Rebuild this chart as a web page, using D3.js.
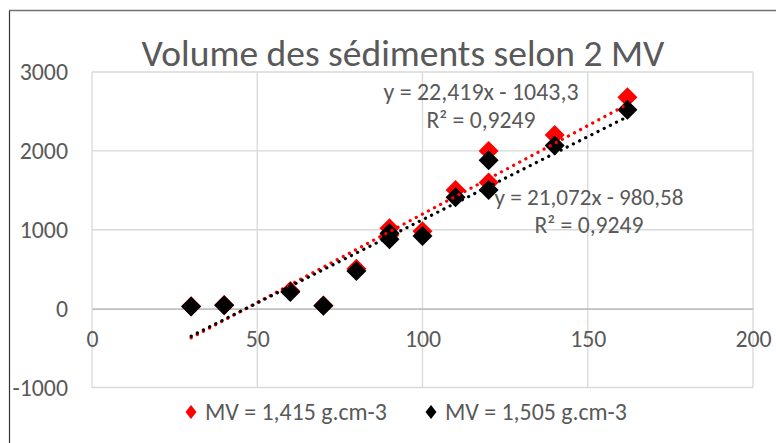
<!DOCTYPE html>
<html><head><meta charset="utf-8">
<script src="https://cdn.jsdelivr.net/npm/d3@7"></script>
<style>
body{margin:0;background:#fff;}
svg{display:block;}
text{font-family: Carlito, Calibri, Lato, "Open Sans", sans-serif; fill:#595959;}
</style>
</head><body>
<svg id="c" width="776" height="443"></svg>
<script>
// ---- data ----
const chartTitle = "Volume des sédiments selon 2 MV";
const xValues = [30, 40, 60, 70, 80, 90, 90, 100, 110, 120, 120, 140, 162];
const seriesRed = [30, 45, 225, 40, 506, 1018, 935, 980, 1503, 2000, 1600, 2200, 2680];
const seriesBlack = [28, 42, 212, 38, 476, 957, 879, 921, 1413, 1880, 1504, 2068, 2520];
const seriesNames = ["MV = 1,415 g.cm-3", "MV = 1,505 g.cm-3"];
const seriesColors = ["#ff0000", "#000000"];
const trendSlopes = [22.419, 21.072];
const trendIntercepts = [-1043.3, -980.58];
const trendEquations = ["y = 22,419x - 1043,3", "y = 21,072x - 980,58"];
const trendR2 = ["R² = 0,9249", "R² = 0,9249"];
const xTicks = [0, 50, 100, 150, 200];
const yTicks = [-1000, 0, 1000, 2000, 3000];

// ---- layout ----
const svg = d3.select("#c");
const plot = {left: 92, right: 753, top: 72, bottom: 387.5};
const x = d3.scaleLinear().domain([0, 200]).range([plot.left, plot.right]);
const y = d3.scaleLinear().domain([-1000, 3000]).range([plot.bottom, plot.top]);

function fitWidth(sel, target) {
  const w = sel.node().getComputedTextLength();
  const fs = parseFloat(sel.attr("font-size"));
  sel.attr("font-size", fs * target / w);
  return fs * target / w;
}

// chart border
svg.append("line").attr("x1", 9.5).attr("x2", 9.5).attr("y1", 10.5).attr("y2", 443)
  .attr("stroke", "#333").attr("stroke-width", 1.2);
svg.append("line").attr("x1", 9).attr("x2", 776).attr("y1", 10.5).attr("y2", 10.5)
  .attr("stroke", "#707070").attr("stroke-width", 1.5);

// base font size from legend text
const probe = svg.append("text").attr("font-size", 24).text(seriesNames[0]);
const baseFs = fitWidth(probe, 182);
probe.remove();

// gridlines
const grid = svg.append("g");
grid.selectAll("line.v").data(xTicks).join("line").attr("class", "v")
  .attr("x1", d => x(d)).attr("x2", d => x(d))
  .attr("y1", y(-1000)).attr("y2", y(3000))
  .attr("stroke", "#d9d9d9").attr("stroke-width", 1.3);
grid.selectAll("line.h").data(yTicks.filter(d => d !== 0)).join("line").attr("class", "h")
  .attr("x1", x(0)).attr("x2", x(200))
  .attr("y1", d => y(d)).attr("y2", d => y(d))
  .attr("stroke", "#d9d9d9").attr("stroke-width", 1.3);

// axes
const plainFmt = d => String(d);
const yAxis = svg.append("g").attr("transform", `translate(${plot.left},0)`)
  .call(d3.axisLeft(y).tickValues(yTicks).tickSize(0).tickPadding(24).tickFormat(plainFmt));
yAxis.select(".domain").remove();
yAxis.attr("font-family", null);
yAxis.selectAll("text").attr("font-size", baseFs).attr("fill", "#595959");

const xAxis = svg.append("g").attr("transform", `translate(0,${y(0)})`)
  .call(d3.axisBottom(x).tickValues(xTicks).tickSize(0).tickFormat(plainFmt));
xAxis.attr("font-family", null);
xAxis.select(".domain").attr("stroke", "#bfbfbf").attr("stroke-width", 1.6);
xAxis.selectAll("text").attr("font-size", baseFs).attr("y", 30).attr("dy", "0.35em")
  .attr("fill", "#595959");

// markers
const diamond = d3.symbol(d3.symbolSquare, 200);
const allSeries = [seriesRed, seriesBlack];
allSeries.forEach((vals, i) => {
  svg.append("g").selectAll("path").data(vals).join("path")
    .attr("d", diamond)
    .attr("transform", (d, j) => `translate(${x(xValues[j])},${y(d)}) rotate(45)`)
    .attr("fill", seriesColors[i]);
});

// trendlines
const xMin = d3.min(xValues), xMax = d3.max(xValues);
const line = d3.line().x(d => x(d[0])).y(d => y(d[1]));
trendSlopes.forEach((m, i) => {
  const pts = [xMin, xMax].map(v => [v, m * v + trendIntercepts[i]]);
  svg.append("path").attr("d", line(pts))
    .attr("fill", "none").attr("stroke", seriesColors[i])
    .attr("stroke-width", 3.2).attr("stroke-linecap", "round")
    .attr("stroke-dasharray", "0.1 6.8");
});

// trend labels
const labelPos = [[481, 92], [589, 197]];
const eqWidths = [195, 189];
trendEquations.forEach((eq, i) => {
  const t1 = svg.append("text").attr("x", labelPos[i][0]).attr("y", labelPos[i][1])
    .attr("dy", "0.35em").attr("text-anchor", "middle").attr("font-size", baseFs).text(eq);
  fitWidth(t1, eqWidths[i]);
  const t2 = svg.append("text").attr("x", labelPos[i][0]).attr("y", labelPos[i][1] + 28)
    .attr("dy", "0.35em").attr("text-anchor", "middle").attr("font-size", baseFs).text(trendR2[i]);
  fitWidth(t2, 109);
});

// title
const tt = svg.append("text").attr("x", 403).attr("y", 66).attr("text-anchor", "middle")
  .attr("font-size", 32).text(chartTitle);
fitWidth(tt, 523);

// legend
const legendX = [191, 431];
const legDiamond = (cx, cy) => `M${cx},${cy - 7}L${cx + 5.5},${cy}L${cx},${cy + 7}L${cx - 5.5},${cy}Z`;
seriesNames.forEach((name, i) => {
  svg.append("path").attr("d", legDiamond(legendX[i], 412)).attr("fill", seriesColors[i]);
  svg.append("text").attr("x", legendX[i] + 14).attr("y", 412).attr("dy", "0.35em")
    .attr("font-size", baseFs).text(name);
});
</script>
</body></html>
